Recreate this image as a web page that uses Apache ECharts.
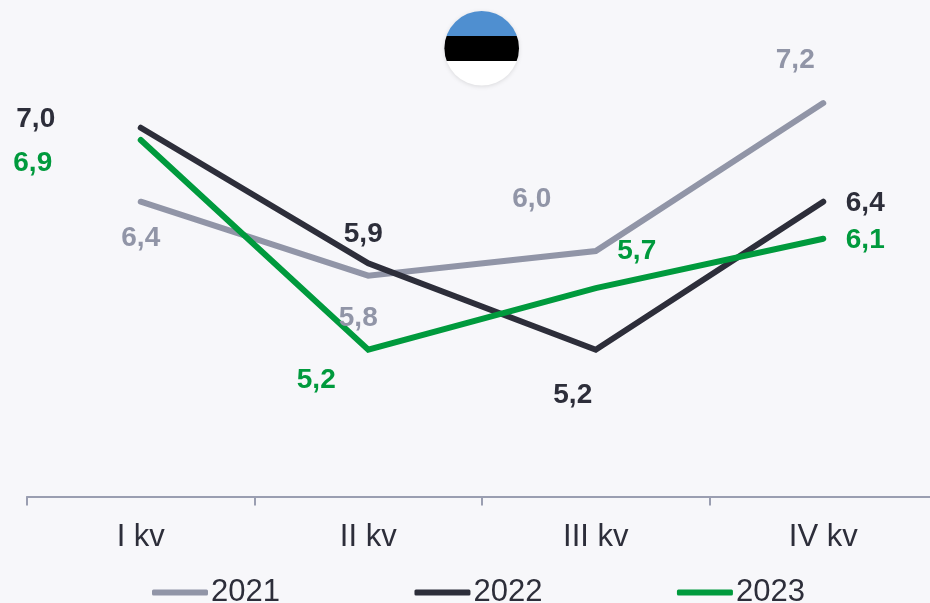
<!DOCTYPE html>
<html>
<head>
<meta charset="utf-8">
<style>
  html, body { margin: 0; padding: 0; background: #f7f7fa; overflow: hidden; }
  #chart { width: 937px; height: 603px; }
</style>
</head>
<body>
<div id="chart"></div>
<script src="https://cdn.jsdelivr.net/npm/echarts@6/dist/echarts.min.js"></script>
<script>
const categories = ['I kv', 'II kv', 'III kv', 'IV kv']
const years = ['2021', '2022', '2023']
const values2021 = [6.4, 5.8, 6.0, 7.2]
const values2022 = [7.0, 5.9, 5.2, 6.4]
const values2023 = [6.9, 5.2, 5.7, 6.1]
const colors = ['#9195a7', '#2d2e3a', '#009a3d']
// label shift from its point, one pair per quarter
const offsets2021 = [[0, 37], [-10, 43], [-64, -52], [-28, -43]]
const offsets2022 = [[-105, -8], [-5, -29], [-23, 46], [42, 2]]
const offsets2023 = [[-108, 23], [-52, 31], [41, -37], [42, 2]]

const font = '"Liberation Sans", Arial, sans-serif'

function makeSeries(name, values, offsets, color) {
  return {
    name: name,
    type: 'line',
    smooth: false,
    lineStyle: { color: color, width: 6, cap: 'round', join: 'miter' },
    itemStyle: { color: color },
    data: values.map((v, i) => ({
      value: v,
      // symbol none would hide the label too
      symbol: 'circle',
      symbolSize: 1,
      label: {
        show: true,
        position: 'inside',
        offset: offsets[i],
        formatter: p => p.value.toFixed(1).replace('.', ','),
        color: color,
        fontFamily: font,
        fontWeight: 'bold',
        fontSize: 28
      }
    }))
  }
}

const chart = echarts.init(document.getElementById('chart'))
chart.setOption({
  animation: false,
  backgroundColor: '#f7f7fa',
  color: colors,
  grid: { left: 27, right: 0, top: 13, bottom: 106.5 },
  legend: {
    data: years,
    left: 147,
    top: 572,
    icon: 'roundRect',
    itemWidth: 56,
    itemHeight: 6,
    itemGap: 134.5,
    textStyle: { fontFamily: font, fontSize: 31, color: '#2d2e3a', padding: [0, 0, 0, -2] }
  },
  xAxis: {
    type: 'category',
    data: categories,
    boundaryGap: true,
    axisLine: { lineStyle: { color: '#9a9eb1', width: 2 } },
    axisTick: { show: true, length: 9, lineStyle: { color: '#9a9eb1', width: 2 } },
    axisLabel: { fontFamily: font, fontSize: 31, color: '#2d2e3a', margin: 25 }
  },
  yAxis: { type: 'value', min: 4.01, max: 7.93, show: false, splitLine: { show: false } },
  graphic: [
    {
      type: 'circle',
      shape: { cx: 481.7, cy: 48.3, r: 37.3 },
      style: {
        fill: {
          type: 'linear', x: 0, y: 0, x2: 0, y2: 1,
          colorStops: [
            { offset: 0, color: '#4f8fd0' },
            { offset: 0.335, color: '#4f8fd0' },
            { offset: 0.335, color: '#000000' },
            { offset: 0.665, color: '#000000' },
            { offset: 0.665, color: '#ffffff' },
            { offset: 1, color: '#ffffff' }
          ]
        },
        shadowColor: 'rgba(0,0,0,0.12)',
        shadowBlur: 4,
        shadowOffsetY: 1
      }
    }
  ],
  series: [
    makeSeries(years[0], values2021, offsets2021, colors[0]),
    makeSeries(years[1], values2022, offsets2022, colors[1]),
    makeSeries(years[2], values2023, offsets2023, colors[2])
  ]
})
</script>
</body>
</html>
